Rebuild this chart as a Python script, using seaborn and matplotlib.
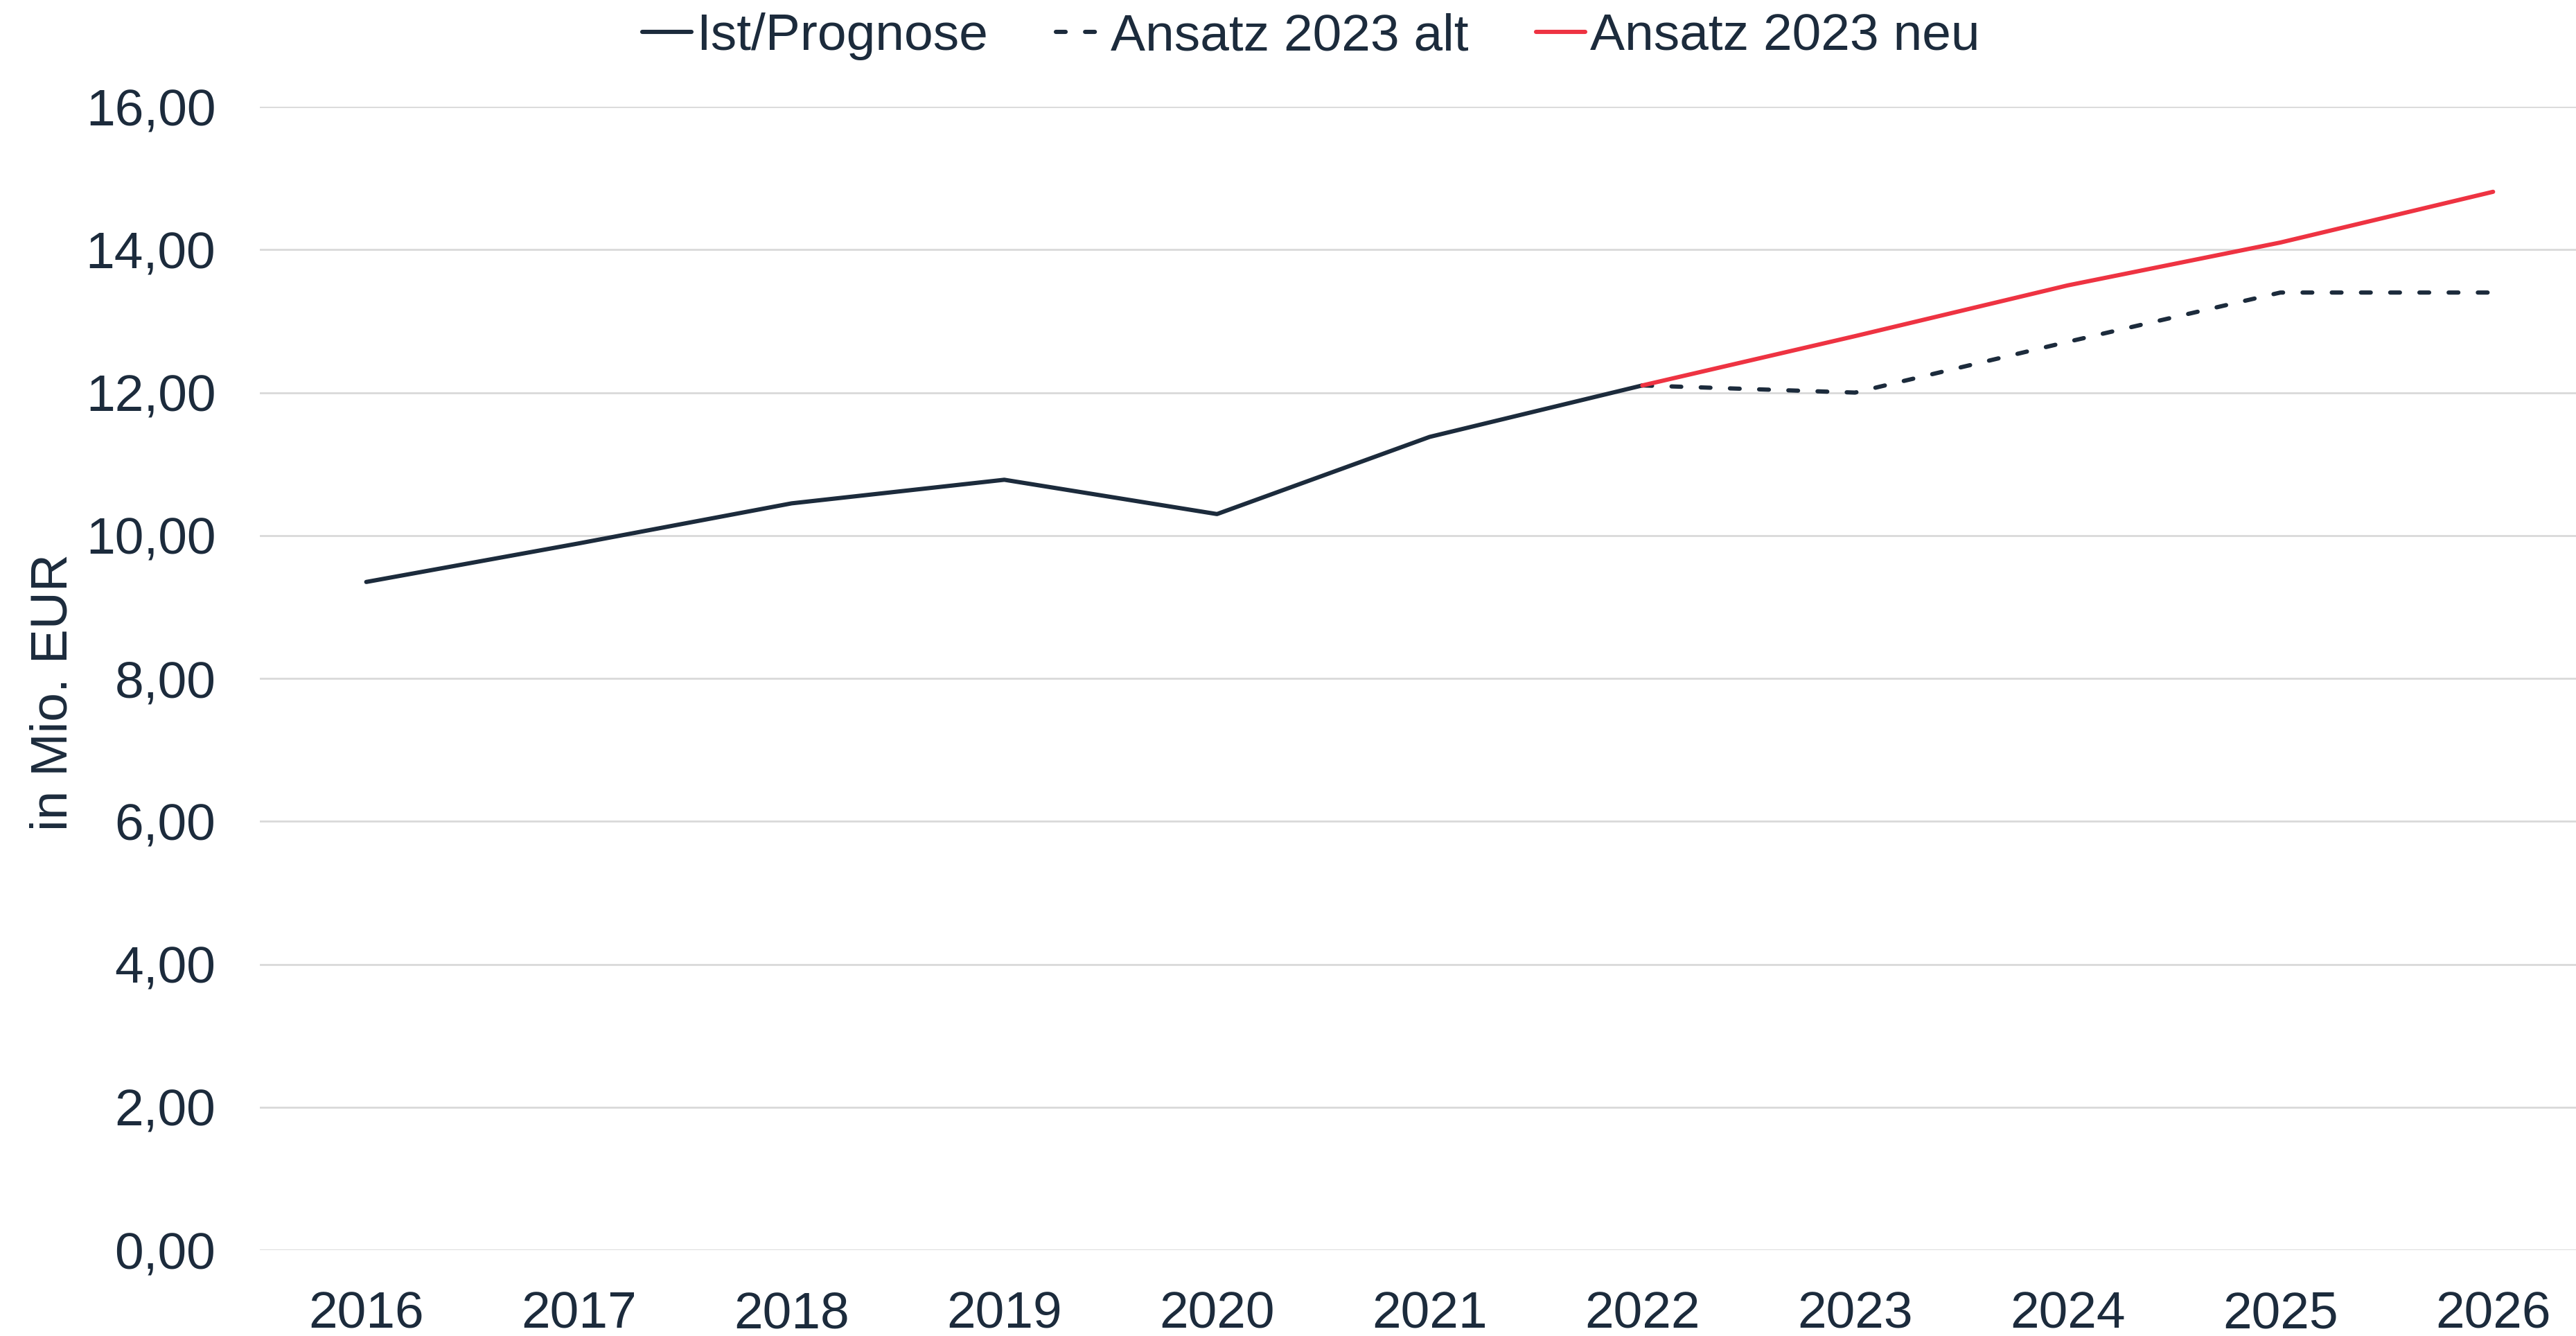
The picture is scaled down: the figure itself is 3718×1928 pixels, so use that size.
import numpy as np
import pandas as pd
import matplotlib
matplotlib.use("Agg")
import matplotlib.pyplot as plt
from matplotlib.ticker import FuncFormatter
import seaborn as sns

years = [2016, 2017, 2018, 2019, 2020, 2021, 2022, 2023, 2024, 2025, 2026]
ist_prognose = [9.35, 9.89, 10.45, 10.78, 10.30, 11.38, 12.10, np.nan, np.nan, np.nan, np.nan]
ansatz_alt = [np.nan, np.nan, np.nan, np.nan, np.nan, np.nan, 12.10, 12.00, 12.71, 13.40, 13.40]
ansatz_neu = [np.nan, np.nan, np.nan, np.nan, np.nan, np.nan, 12.10, 12.79, 13.50, 14.10, 14.81]

navy = "#1C2B3C"
red = "#EE3342"
grid = "#D9D9D9"

sns.set_style("white")
plt.rcParams["font.family"] = ["Liberation Sans", "DejaVu Sans"]
plt.rcParams["text.color"] = navy

fig = plt.figure(figsize=(37.18, 19.28), dpi=100)
ax = fig.add_axes([0.1009, 0.0643, 0.8991, 0.8558])

df = pd.DataFrame({"Jahr": years, "Ist/Prognose": ist_prognose,
                   "Ansatz 2023 alt": ansatz_alt, "Ansatz 2023 neu": ansatz_neu})

sns.lineplot(data=df, x="Jahr", y="Ist/Prognose", ax=ax, color=navy, linewidth=4.4,
             label="Ist/Prognose")
sns.lineplot(data=df, x="Jahr", y="Ansatz 2023 alt", ax=ax, color=navy, linewidth=4.4,
             label="Ansatz 2023 alt")
sns.lineplot(data=df, x="Jahr", y="Ansatz 2023 neu", ax=ax, color=red, linewidth=4.4,
             label="Ansatz 2023 neu")
ax.lines[1].set_dashes((2.3, 4.6))
ax.lines[1].set_dash_capstyle("round")

ax.set_xlim(2015.5, 2026.39)
ax.set_ylim(0, 16)
ax.set_xticks(years)
ax.set_xticklabels([str(y) for y in years])
ax.set_yticks(np.arange(0, 17, 2))
ax.yaxis.set_major_formatter(FuncFormatter(lambda v, p: f"{v:.2f}".replace(".", ",")))
ax.grid(axis="y", color=grid, lw=2)
ax.set_axisbelow(True)
for s in ax.spines.values():
    s.set_visible(False)
ax.tick_params(axis="both", length=0, labelsize=54, colors=navy)
ax.tick_params(axis="y", pad=46)
ax.tick_params(axis="x", pad=42)
ax.set_xlabel("")
ax.set_ylabel("in Mio. EUR", fontsize=54, color=navy)
ax.yaxis.set_label_coords(-0.079, 0.488)

ax.legend(loc="upper center", bbox_to_anchor=(0.509, 1.006), bbox_transform=fig.transFigure,
          ncol=3, frameon=False, fontsize=54, handlelength=0.95, handletextpad=0.1,
          columnspacing=1.3, borderaxespad=0.0)

fig.savefig("out.png", dpi=100)
